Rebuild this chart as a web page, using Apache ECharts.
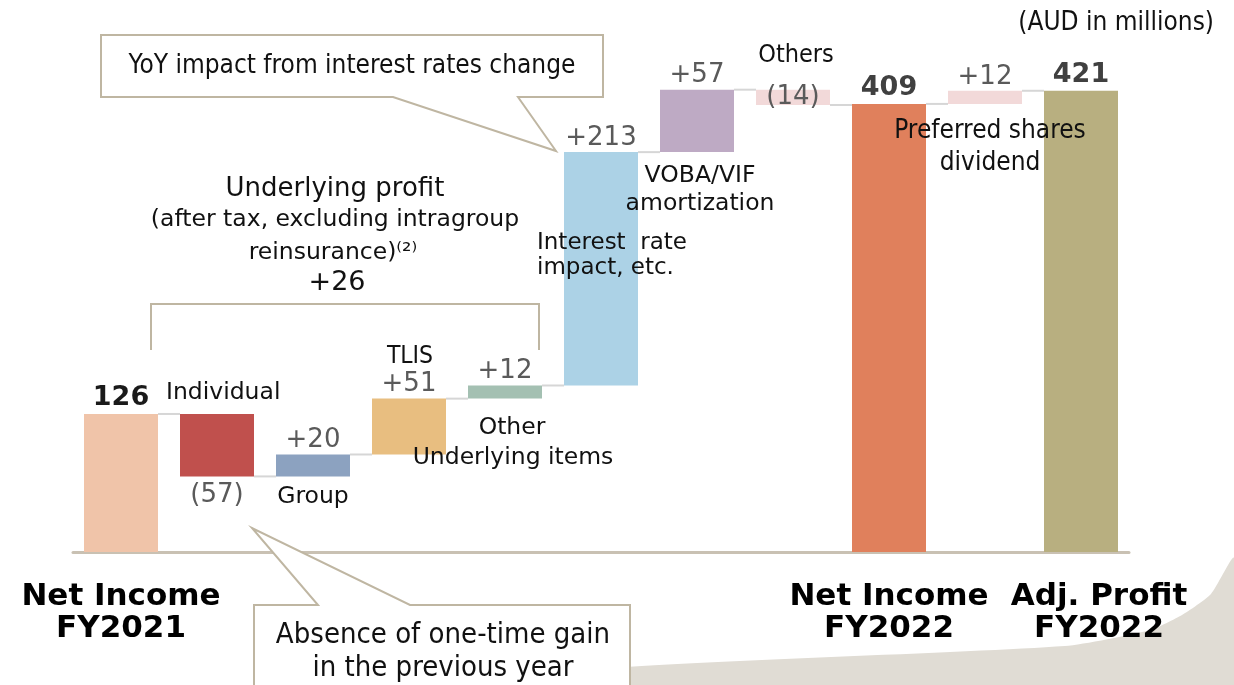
<!DOCTYPE html>
<html>
    <head>
        <meta charset="utf-8">
        <title>Net income bridge FY2021 - FY2022</title>
        <script src="https://cdn.jsdelivr.net/npm/echarts@6/dist/echarts.min.js"></script>
        <style>
            html, body { margin: 0; padding: 0; background: #fff; }
        </style>
    </head>
    <body>
        <div id="main" style="width:1234px;height:685px;"></div>
        <script type="text/javascript">
            // data
            var categories = ['Net Income FY2021', 'Individual', 'Group', 'TLIS', 'Other Underlying items',
                'Interest rate impact, etc.', 'VOBA/VIF amortization', 'Others', 'Net Income FY2022',
                'Preferred shares dividend', 'Adj. Profit FY2022'];
            var steps = [126, -57, 20, 51, 12, 213, 57, -14, 409, 12, 421];
            var isTotal = [true, false, false, false, false, false, false, false, true, false, true];
            var axisLabels = ['Net Income\nFY2021', '', '', '', '', '', '', '', 'Net Income\nFY2022', '', '{r|Adj. Profit}\n{r|FY2022}'];
            var barColors = ['#F0C4A9', '#C0504D', '#8CA2C0', '#E8BE80', '#A4C0B2', '#ACD2E6',
                '#BEAAC4', '#F2D9D9', '#E0805C', '#F2D9D9', '#B8AF80'];

            var SANS = "'DejaVu Sans', Verdana, sans-serif";
            var NARROW = "'DejaVu Sans Condensed', 'Liberation Sans Narrow', 'DejaVu Sans', sans-serif";

            // waterfall: invisible base + visible bar
            var base = [], vals = [], ends = [];
            var run = 0;
            for (var i = 0; i < steps.length; i++) {
                if (isTotal[i]) {
                    base.push(0); vals.push(steps[i]); run = steps[i];
                } else {
                    var nxt = run + steps[i];
                    base.push(Math.min(run, nxt)); vals.push(Math.abs(steps[i])); run = nxt;
                }
                ends.push(run);
            }
            var connectors = [];
            for (var i = 0; i < steps.length - 1; i++) connectors.push([i, ends[i]]);

            function fmtStep(i) {
                var s = steps[i];
                if (isTotal[i]) return String(s);
                return s < 0 ? '(' + (-s) + ')' : '+' + s;
            }

            var barData = vals.map(function (v, i) {
                var lab = { show: true, position: 'top', distance: 1, color: '#5a5a5a', fontSize: 26, fontFamily: SANS,
                    formatter: fmtStep(i) };
                if (isTotal[i]) {
                    lab.fontWeight = 'bold';
                    lab.fontSize = 27;
                    lab.color = i === 0 ? '#1a1a1a' : '#404040';
                    lab.distance = 2;
                } else if (steps[i] < 0) {
                    lab.position = i === 7 ? 'inside' : 'bottom';
                    lab.distance = 6;
                }
                return { value: v, itemStyle: { color: barColors[i] }, label: lab };
            });

            var myChart = echarts.init(document.getElementById('main'));
            var tan = '#BFB6A2';
            function txt(x, y, s, size, fam, align) {
                return {
                    type: 'text', z: 100,
                    style: { x: x, y: y, text: s, fontSize: size, fontFamily: fam, fill: '#111',
                        align: align || 'center', verticalAlign: 'middle' }
                };
            }
            var option = {
                animation: false,
                title: {
                    text: '(AUD in millions)', right: 15, top: 5,
                    textStyle: { fontSize: 26, fontWeight: 'normal', fontFamily: NARROW, color: '#111' }
                },
                grid: { left: 73, right: 105, top: 59, bottom: 133 },
                xAxis: {
                    type: 'category',
                    data: categories,
                    axisTick: { show: false },
                    axisLine: { lineStyle: { color: '#C9C1B3', width: 3 } },
                    axisLabel: {
                        interval: 0, margin: 29, lineHeight: 32,
                        fontSize: 31, fontWeight: 'bold', fontFamily: SANS, color: '#000',
                        rich: {
                            r: { fontSize: 31, fontWeight: 'bold', fontFamily: SANS, color: '#000',
                                lineHeight: 32, padding: [0, 0, 0, 36] }
                        },
                        formatter: function (v, idx) { return axisLabels[idx]; }
                    }
                },
                yAxis: { type: 'value', min: 0, max: 450, show: false, splitLine: { show: false } },
                series: [{
                    type: 'bar', stack: 'w', barWidth: 74, silent: true,
                    itemStyle: { color: 'transparent' },
                    data: base
                }, {
                    type: 'bar', stack: 'w', barWidth: 74,
                    data: barData
                }, {
                    type: 'custom', z: 1,
                    encode: { x: 0, y: 1 },
                    renderItem: function (params, api) {
                        var p = api.coord([api.value(0), api.value(1)]);
                        var q = api.coord([api.value(0) + 1, api.value(1)]);
                        return {
                            type: 'line',
                            shape: { x1: p[0] + 37, y1: p[1], x2: q[0] - 37, y2: q[1] },
                            style: { stroke: '#D6D6D6', lineWidth: 2 }
                        };
                    },
                    data: connectors
                }],
                graphic: [
                    {
                        type: 'polygon', z: -1,
                        shape: { points: [[600, 686], [600, 669], [1065, 646], [1150, 630], [1182, 615], [1211, 594], [1234, 558], [1234, 686]], smooth: 0.2 },
                        style: { fill: '#E0DCD4' }
                    },
                    {
                        type: 'polygon', z: 90,
                        shape: { points: [[101, 35], [603, 35], [603, 97], [518, 97], [556, 151], [393, 97], [101, 97]] },
                        style: { fill: '#fff', stroke: tan, lineWidth: 2 }
                    },
                    {
                        type: 'polygon', z: 90,
                        shape: { points: [[254, 692], [254, 605], [318, 605], [252, 528], [410, 605], [630, 605], [630, 692]] },
                        style: { fill: '#fff', stroke: tan, lineWidth: 2 }
                    },
                    {
                        type: 'polyline', z: 90,
                        shape: { points: [[151, 350], [151, 304], [539, 304], [539, 350]] },
                        style: { stroke: tan, lineWidth: 2, fill: null }
                    },
                    txt(352, 66, 'YoY impact from interest rates change', 26, NARROW),
                    txt(335, 189, 'Underlying profit', 26, SANS),
                    txt(335, 220, '(after tax, excluding intragroup', 23.5, SANS),
                    txt(333, 253, 'reinsurance)⁽²⁾', 23.5, SANS),
                    txt(337, 283, '+26', 27, SANS),
                    txt(166, 393, 'Individual', 23.5, SANS, 'left'),
                    txt(313, 497, 'Group', 23.5, SANS),
                    txt(410, 357, 'TLIS', 24.5, NARROW),
                    txt(512, 428, 'Other', 23.5, SANS),
                    txt(513, 458, 'Underlying items', 23.5, SANS),
                    txt(537, 243, 'Interest  rate', 23, SANS, 'left'),
                    txt(537, 268, 'impact, etc.', 23, SANS, 'left'),
                    txt(700, 176, 'VOBA/VIF', 23.5, SANS),
                    txt(700, 204, 'amortization', 23.5, SANS),
                    txt(796, 55, 'Others', 25, NARROW),
                    txt(990, 131, 'Preferred shares', 26, NARROW),
                    txt(990, 163, 'dividend', 26, NARROW),
                    txt(443, 635, 'Absence of one-time gain', 29, NARROW),
                    txt(443, 668, 'in the previous year', 29, NARROW)
                ]
            };
            myChart.setOption(option);
        </script>
    </body>
</html>
